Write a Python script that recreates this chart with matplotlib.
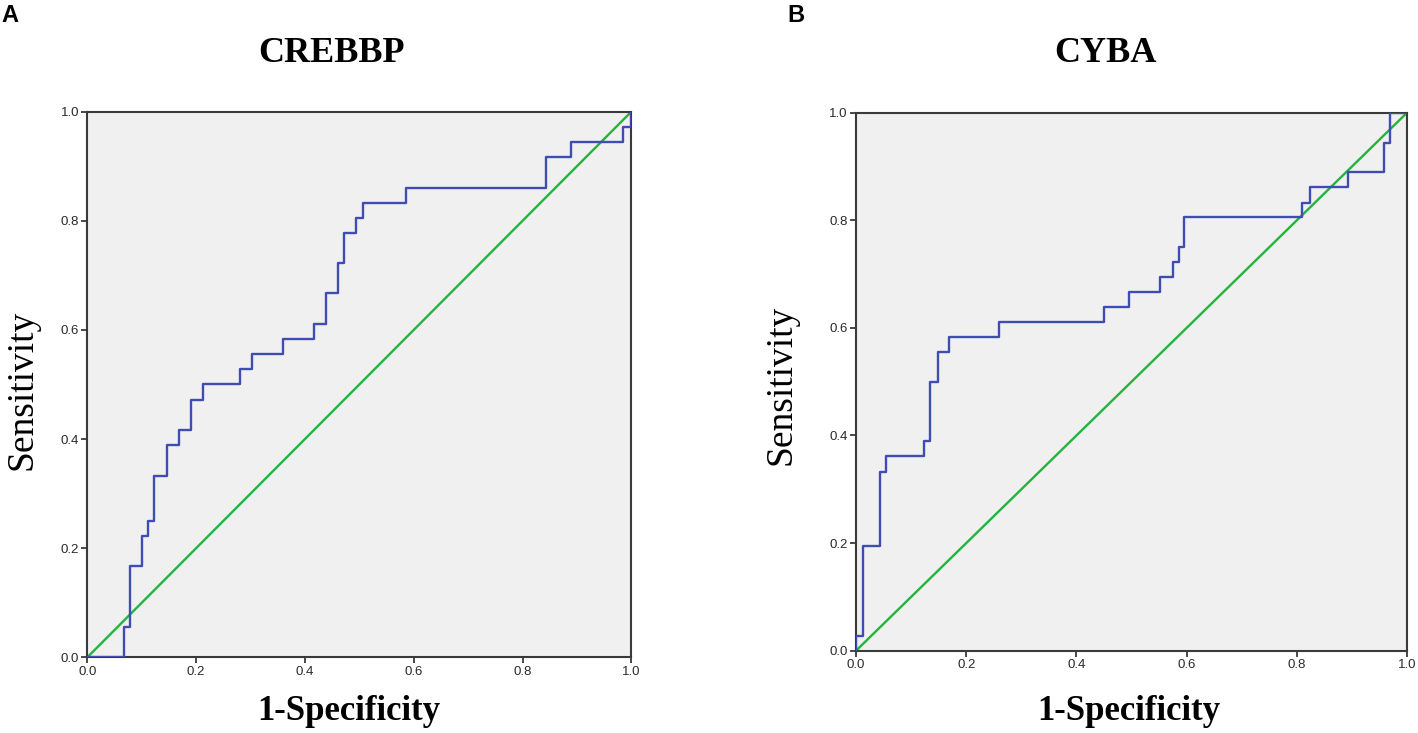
import matplotlib.pyplot as plt
import numpy as np

# ROC corner points (steps: horizontal, then up)
crebbp_fpr = [0.0, 0.067, 0.078, 0.101, 0.111, 0.123, 0.146, 0.169, 0.191, 0.213,
              0.280, 0.303, 0.359, 0.416, 0.438, 0.460, 0.471, 0.494, 0.506, 0.585,
              0.843, 0.889, 0.985, 1.0]
crebbp_tpr = [0.0, 0.056, 0.167, 0.222, 0.250, 0.333, 0.389, 0.417, 0.472, 0.500,
              0.528, 0.556, 0.583, 0.611, 0.667, 0.722, 0.778, 0.806, 0.833, 0.861,
              0.917, 0.944, 0.972, 1.0]

cyba_fpr = [0.0, 0.0, 0.012, 0.044, 0.055, 0.123, 0.135, 0.148, 0.168, 0.260,
            0.450, 0.496, 0.552, 0.575, 0.586, 0.596, 0.810, 0.823, 0.892, 0.958,
            0.969, 1.0]
cyba_tpr = [0.0, 0.028, 0.194, 0.333, 0.361, 0.389, 0.500, 0.556, 0.583, 0.611,
            0.639, 0.667, 0.694, 0.722, 0.750, 0.806, 0.833, 0.861, 0.889, 0.944,
            1.0, 1.0]

ticks = [0.0, 0.2, 0.4, 0.6, 0.8, 1.0]
tick_labels = ['0.0', '0.2', '0.4', '0.6', '0.8', '1.0']

blauw = '#3f4db3'
zelena = '#22b43c'

fig = plt.figure(figsize=(14.18, 7.33), dpi=100)


def roc_panel(rect, fpr, tpr):
    ax = fig.add_axes(rect)
    ax.set_facecolor('#f0f0f0')
    ax.plot([0, 1], [0, 1], color=zelena, lw=1.7, zorder=2)
    ax.plot(fpr, tpr, drawstyle='steps-post', color=blauw, lw=1.7, zorder=3)
    ax.set_xlim(0, 1)
    ax.set_ylim(0, 1)
    ax.set_xticks(ticks)
    ax.set_yticks(ticks)
    ax.set_xticklabels(tick_labels)
    ax.set_yticklabels(tick_labels)
    for s in ax.spines.values():
        s.set_color('#3a3a3a')
        s.set_linewidth(1.5)
    ax.tick_params(direction='out', length=4, width=1.3, color='#3a3a3a',
                   labelsize=9.5, labelcolor='#2a2a2a', pad=2)
    for lab in ax.get_xticklabels() + ax.get_yticklabels():
        lab.set_family('Liberation Sans')
    return ax


roc_panel([0.0616, 0.1033, 0.3836, 0.7443], crebbp_fpr, crebbp_tpr)
roc_panel([0.6037, 0.1123, 0.3886, 0.734], cyba_fpr, cyba_tpr)

serif = 'Liberation Serif'
fig.text(332 / 1418, 1 - 53 / 733, 'CREBBP', family=serif, fontweight='bold',
         fontsize=26, ha='center', va='center')
fig.text(1105 / 1418, 1 - 53 / 733, 'CYBA', family=serif, fontweight='bold',
         fontsize=26, ha='center', va='center')

fig.text(349 / 1418, 1 - 711 / 733, '1-Specificity', family=serif, fontweight='bold',
         fontsize=25, ha='center', va='center')
fig.text(1129 / 1418, 1 - 711 / 733, '1-Specificity', family=serif, fontweight='bold',
         fontsize=25, ha='center', va='center')

fig.text(22 / 1418, 1 - 390 / 733, 'Sensitivity', family=serif, fontsize=27,
         rotation=90, ha='center', va='center')
fig.text(781 / 1418, 1 - 385 / 733, 'Sensitivity', family=serif, fontsize=27,
         rotation=90, ha='center', va='center')

fig.text(1 / 1418, 1 - 16 / 733, 'A', family='Liberation Sans', fontweight='bold',
         fontsize=17, ha='left', va='center')
fig.text(787 / 1418, 1 - 16 / 733, 'B', family='Liberation Sans', fontweight='bold',
         fontsize=17, ha='left', va='center')

plt.savefig('out.png', dpi=100)
